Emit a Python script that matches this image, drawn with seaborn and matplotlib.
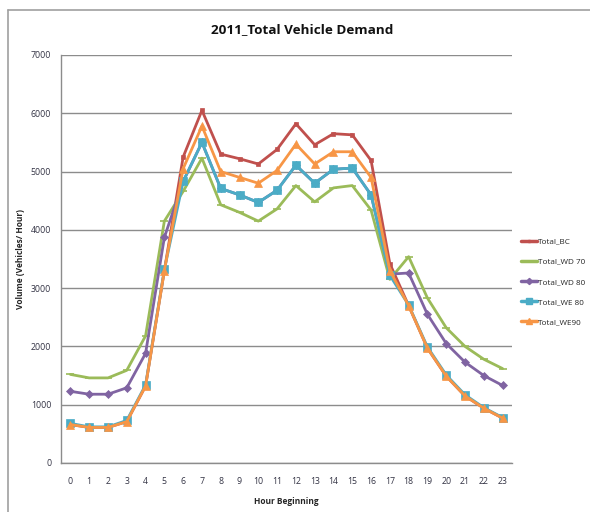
import numpy as np
import pandas as pd
import matplotlib
matplotlib.use("Agg")
import matplotlib.pyplot as plt
from matplotlib.lines import Line2D
import seaborn as sns

hours = list(range(24))

total_bc = [660, 610, 610, 710, 1320, 3300, 5250, 6050, 5300, 5220, 5130, 5380,
            5820, 5460, 5650, 5630, 5190, 3420, 2700, 1970, 1490, 1150, 940, 770]
total_wd70 = [1520, 1460, 1460, 1590, 2180, 4150, 4660, 5230, 4430, 4300, 4150, 4360,
              4760, 4480, 4720, 4760, 4340, 3150, 3540, 2830, 2320, 2000, 1780, 1620]
total_wd80 = [1230, 1180, 1180, 1290, 1880, 3870, 4830, 5500, 4710, 4600, 4470, 4680,
              5110, 4800, 5040, 5060, 4600, 3240, 3260, 2550, 2050, 1730, 1500, 1330]
total_we80 = [680, 620, 620, 730, 1338, 3320, 4830, 5500, 4710, 4600, 4470, 4680,
              5110, 4800, 5040, 5060, 4600, 3220, 2710, 1990, 1510, 1170, 950, 780]
total_we90 = [660, 610, 610, 710, 1320, 3300, 5050, 5780, 5000, 4900, 4800, 5020,
              5470, 5130, 5340, 5340, 4900, 3300, 2700, 1970, 1490, 1150, 940, 770]

series_names = ["Total_BC", "Total_WD 70", "Total_WD 80", "Total_WE 80", "Total_WE90"]
series_values = [total_bc, total_wd70, total_wd80, total_we80, total_we90]
colors = ["#C0504D", "#9BBB59", "#8064A2", "#4BACC6", "#F79646"]
markers = ["s", "_", "D", "s", "^"]
marker_sizes = [2.5, 6, 4.5, 6, 6]

df = pd.DataFrame({"hour": hours})
for name, vals in zip(series_names, series_values):
    df[name] = vals
long = df.melt(id_vars="hour", var_name="series", value_name="volume")

sns.set_style("white")
plt.rcParams["font.family"] = ["Open Sans", "DejaVu Sans"]

fig = plt.figure(figsize=(5.9, 5.12), dpi=100)
ax = fig.add_axes([61 / 590, 1 - 463 / 512, (512 - 61) / 590, (463 - 55) / 512])

for name, col, mk, ms in zip(series_names, colors, markers, marker_sizes):
    sub = long[long["series"] == name]
    sns.lineplot(data=sub, x="hour", y="volume", ax=ax, color=col, lw=2.0,
                 marker=mk, markersize=ms, markeredgecolor=col, markerfacecolor=col,
                 markeredgewidth=1.2 if mk == "_" else 0.5, label=name, legend=False)

ax.set_xlim(-0.5, 23.5)
ax.set_ylim(0, 7000)
ax.set_yticks(range(0, 7001, 1000))
ax.set_xticks(hours)
ax.set_xticks(np.arange(-0.5, 24, 1), minor=True)
ax.tick_params(axis="x", which="major", length=0, pad=10, labelsize=6.3, labelcolor="#333344")
ax.tick_params(axis="x", which="minor", length=4, width=0.8, color="#888888", direction="out")
ax.tick_params(axis="y", which="major", length=4, width=0.8, color="#888888", direction="out",
               labelsize=6.3, labelcolor="#333344", pad=3)
ax.grid(axis="y", color="#8c8c8c", lw=1.0)
ax.grid(axis="x", visible=False)
for s in ["top", "right"]:
    ax.spines[s].set_visible(False)
for s in ["left", "bottom"]:
    ax.spines[s].set_color("#8c8c8c")
    ax.spines[s].set_linewidth(1.0)

ax.set_xlabel("Hour Beginning", fontsize=6, fontweight="bold", labelpad=8)
ax.set_ylabel("Volume (Vehicles/ Hour)", fontsize=6, fontweight="bold")
ax.yaxis.set_label_coords((25 - 61) / 451, 0.5)

fig.text(302 / 590, 1 - 30 / 512, "2011_Total Vehicle Demand", ha="center", va="center",
         fontsize=9.7, fontweight="bold", color="#111111")

handles = [Line2D([0], [0], color=c, lw=2.5, marker=m, markersize=ms * 0.7,
                  markeredgecolor=c, markerfacecolor=c)
           for c, m, ms in zip(colors, markers, marker_sizes)]
fig.legend(handles, series_names, loc="upper left", bbox_to_anchor=(521 / 590, 1 - 238 / 512),
           frameon=False, fontsize=5.9, handlelength=2.0, handletextpad=0.1,
           labelspacing=1.5, borderaxespad=0, borderpad=0)

# outer chart frame
fig.add_artist(Line2D([8 / 590, 8 / 590], [0, 1 - 10 / 512], transform=fig.transFigure,
                      color="#a0a0a0", lw=1.2))
fig.add_artist(Line2D([8 / 590, 1], [1 - 10 / 512, 1 - 10 / 512], transform=fig.transFigure,
                      color="#a0a0a0", lw=1.2))

fig.savefig("out.png", dpi=100)
